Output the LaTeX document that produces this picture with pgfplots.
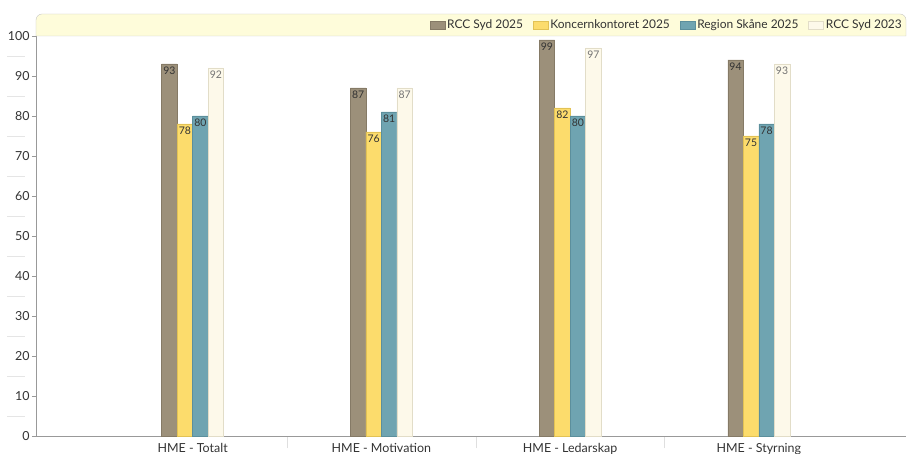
\documentclass[border=0pt]{standalone}
\usepackage{pgfplots}
\pgfplotsset{compat=1.18}
\usepackage{fontspec}
\setmainfont{Lato}
\definecolor{cA}{HTML}{9C907A}
\definecolor{cAd}{HTML}{857A66}
\definecolor{cB}{HTML}{FCDC6C}
\definecolor{cBd}{HTML}{E2C255}
\definecolor{cC}{HTML}{6FA4B1}
\definecolor{cCd}{HTML}{5C8F9C}
\definecolor{cD}{HTML}{FDF9EA}
\definecolor{cDd}{HTML}{E2DDC8}
\definecolor{band}{HTML}{FEFCDA}
\definecolor{txt}{HTML}{333333}
\begin{document}
\begin{tikzpicture}
\begin{axis}[
  scale only axis, width=870bp, height=400bp,
  xmin=-0.83, xmax=3.78, ymin=0, ymax=100,
  axis x line=bottom, axis y line=left,
  axis line style={-, draw=gray!80},
  clip=false,
  ytick={0,10,...,100},
  minor ytick={5,15,...,95},
  xtick={0,1,2,3},
  xticklabels={HME - Totalt, HME - Motivation, HME - Ledarskap, HME - Styrning},
  minor xtick={0.5,1.5,2.5},
  tick align=outside,
  major tick length=4bp,
  minor tick length=12bp,
  major x tick style={draw=none},
  major y tick style={draw=gray!80},
  minor y tick style={draw=gray!20, xshift=-11bp, /pgfplots/minor tick length=18bp},
  minor x tick style={draw=gray!25},
  /pgf/number format/assume math mode=true,
  yticklabel style={font=\fontsize{12.5}{14}\selectfont, text=txt, xshift=1bp},
  xticklabel style={font=\fontsize{12.5}{14}\selectfont, text=txt, yshift=0bp},
  ybar=0pt, bar width=15.5bp,
  nodes near coords,
  every node near coord/.append style={anchor=north, font=\fontsize{10.5}{11}\selectfont, text=txt, inner sep=2.5bp},
  legend columns=4,
  legend style={at={([yshift=11bp,xshift=-2bp]rel axis cs:1,1)}, anchor=east, draw=none, fill=none,
    font=\fontsize{12}{13}\selectfont, text=txt, inner sep=0pt,
    /tikz/every even column/.append style={column sep=8bp}},
  legend image code/.code={\draw[#1, bar shift=0pt] (0bp,-4bp) rectangle (15bp,4bp);},
]
\filldraw[fill=band, draw=gray!45] (rel axis cs:0,1) [rounded corners=6bp] |- ([yshift=22bp]rel axis cs:1,1) [sharp corners] -- (rel axis cs:1,1) -- cycle;
\addplot[fill=cA, draw=cAd, bar shift=-23.25bp] coordinates {(0,93) (1,87) (2,99) (3,94)};
\addplot[fill=cB, draw=cBd, bar shift=-7.75bp] coordinates {(0,78) (1,76) (2,82) (3,75)};
\addplot[fill=cC, draw=cCd, bar shift=7.75bp] coordinates {(0,80) (1,81) (2,80) (3,78)};
\addplot[fill=cD, draw=cDd, bar shift=23.25bp, every node near coord/.append style={text=gray!90!black}] coordinates {(0,92) (1,87) (2,97) (3,93)};
\legend{RCC Syd 2025, Koncernkontoret 2025, Region Skåne 2025, RCC Syd 2023}
\coordinate (O) at (rel axis cs:0,0);
\end{axis}
\pgfresetboundingbox
\path[use as bounding box] ([xshift=-36bp,yshift=-18bp]O) rectangle ([xshift=871bp,yshift=436bp]O);
\end{tikzpicture}
\end{document}
